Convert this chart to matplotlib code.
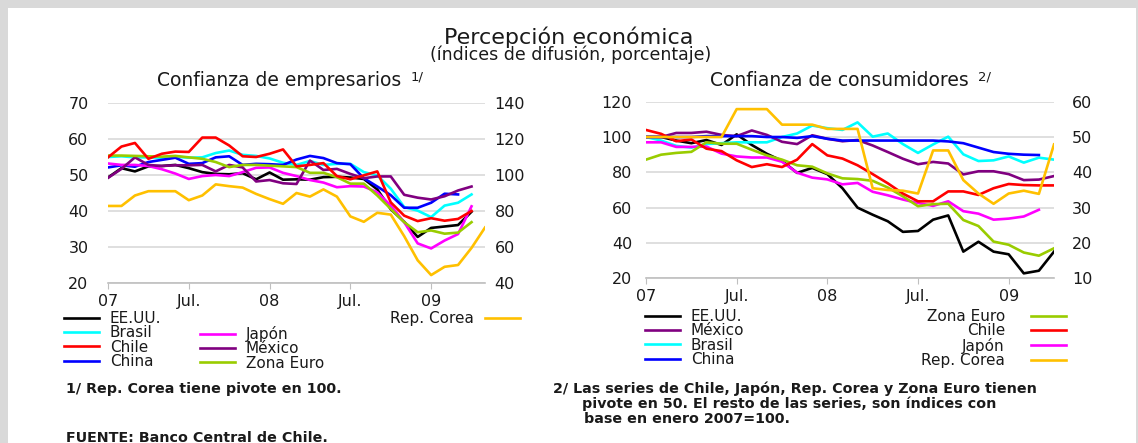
import matplotlib
matplotlib.use("Agg")
import matplotlib.pyplot as plt
import numpy as np
from matplotlib.patches import Rectangle

# ---- data: monthly, starting Jan 2007 ----
tick_pos = [0, 6, 12, 18, 24]
tick_labels = ["07", "Jul.", "08", "Jul.", "09"]

# Confianza de empresarios (left axis 20-70; Rep. Corea on right axis 40-140)
eeuu_e = [49.3, 51.9, 51.0, 52.4, 52.5, 52.8, 51.9, 50.8, 50.3, 50.2, 50.5, 48.8, 50.7, 48.7,
          48.8, 48.7, 49.4, 49.5, 49.3, 48.9, 46.0, 40.5, 37.0, 32.8, 35.3, 35.7, 36.1, 39.8]
brasil_e = [55.0, 55.2, 54.9, 54.9, 54.8, 55.1, 54.8, 54.9, 56.1, 56.8, 55.6, 55.3, 54.6, 53.4,
            52.8, 53.9, 52.8, 53.1, 53.1, 50.8, 49.9, 46.2, 41.1, 40.1, 38.3, 41.5, 42.3, 44.6]
chile_e = [54.9, 57.9, 58.9, 54.5, 55.9, 56.5, 56.4, 60.4, 60.4, 58.2, 55.2, 55.0, 55.9, 57.1,
           52.4, 52.8, 53.3, 49.7, 48.8, 49.9, 51.0, 42.4, 38.7, 37.2, 38.0, 37.3, 37.8, 40.0]
china_e = [52.1, 52.7, 52.3, 53.6, 54.2, 54.8, 53.1, 53.3, 54.9, 55.2, 52.8, 53.1, 53.0, 52.8,
           54.3, 55.3, 54.7, 53.3, 53.0, 49.1, 46.8, 44.4, 40.9, 40.9, 42.3, 44.8, 44.6]
japon_e = [53.2, 52.8, 52.8, 52.5, 51.6, 50.4, 48.9, 49.7, 50.0, 49.7, 50.8, 52.0, 52.1, 50.6,
           49.7, 48.6, 47.9, 46.6, 46.9, 46.8, 45.2, 41.5, 36.9, 31.0, 29.6, 31.8, 33.6, 41.3]
mexico_e = [49.2, 51.7, 54.9, 52.8, 52.5, 52.7, 52.7, 52.8, 51.0, 52.8, 52.1, 48.2, 48.6, 47.7,
            47.5, 54.0, 51.4, 51.7, 50.3, 49.1, 49.6, 49.6, 44.5, 43.7, 43.2, 44.1, 45.7, 46.8]
zona_e = [55.4, 55.4, 55.3, 55.2, 55.1, 55.3, 54.9, 54.5, 53.6, 52.2, 52.8, 52.8, 52.6, 52.4,
          52.2, 50.6, 50.6, 49.4, 47.6, 47.6, 44.3, 40.6, 36.9, 34.1, 34.6, 33.7, 34.0, 36.9]
corea_e = [82.8, 82.8, 88.6, 91.0, 91.0, 91.0, 86.0, 88.6, 94.8, 93.8, 93.0, 89.5, 86.6, 84.0,
           90.0, 88.0, 92.0, 88.0, 77.0, 74.0, 79.0, 78.0, 66.0, 52.6, 44.4, 49.0, 50.0, 59.5, 70.8]

# Confianza de consumidores (left axis 20-120; Chile, Japon, Corea, Zona Euro right axis 10-60)
eeuu_c = [100, 100, 98.0, 96.5, 98.3, 95.5, 101.5, 95.5, 90.5, 86.5, 79.7, 82.5, 79.0, 71.0,
          60.0, 56.0, 52.3, 46.3, 46.8, 53.2, 55.6, 35.1, 40.7, 35.1, 33.6, 22.8, 24.3, 35.1]
mexico_c = [100, 100, 102.3, 102.3, 103.0, 101.2, 100.5, 103.7, 101.2, 97.3, 96.0, 101.0, 99.0,
            97.6, 98.3, 95.2, 91.5, 87.7, 84.6, 85.9, 85.0, 78.8, 80.6, 80.6, 79.0, 75.6, 75.9, 77.9]
brasil_c = [100, 98.0, 95.0, 94.0, 96.0, 96.5, 97.0, 97.0, 97.0, 100.0, 102.0, 106.5, 105.0, 104.0,
            108.3, 100.2, 102.0, 96.0, 91.0, 95.8, 100.2, 90.2, 86.4, 86.8, 89.0, 85.5, 88.3, 87.2]
china_c = [100, 100, 100, 100, 100.5, 100.5, 100.5, 100.5, 100, 100, 99.5, 100.5, 99.0, 98.0,
           98.0, 98.0, 98.0, 98.0, 98.0, 98.0, 97.5, 96.5, 94.0, 91.5, 90.5, 90.0, 89.8]
zona_c = [43.6, 45.0, 45.5, 45.8, 48.5, 48.1, 48.1, 46.4, 44.8, 43.6, 42.0, 41.6, 39.7, 38.3,
          38.1, 37.6, 35.7, 33.2, 30.4, 31.0, 31.1, 26.5, 24.8, 20.4, 19.5, 17.3, 16.4, 18.5]
chile_c = [52.0, 50.9, 48.8, 49.3, 46.7, 46.0, 43.4, 41.5, 42.3, 41.5, 43.6, 48.0, 44.8, 43.9,
           42.0, 39.5, 36.9, 34.0, 31.8, 31.8, 34.6, 34.6, 33.6, 35.5, 36.7, 36.4, 36.3, 36.3]
japon_c = [48.5, 48.5, 47.2, 47.2, 47.3, 45.3, 44.5, 44.2, 44.2, 43.0, 39.9, 38.5, 38.0, 36.6,
           37.0, 34.5, 33.5, 32.3, 31.3, 30.5, 31.8, 29.0, 28.3, 26.6, 26.9, 27.5, 29.4]
corea_c = [50, 50, 50, 50, 50, 50, 57.9, 57.9, 57.9, 53.5, 53.5, 53.5, 52.3, 52.3, 52.3, 35.5,
           35.0, 34.8, 34.0, 46.2, 46.2, 37.8, 34.0, 31.1, 34.0, 34.8, 33.9, 47.9]

C = {"EE.UU.": "#000000", "Brasil": "#00ffff", "Chile": "#ff0000", "China": "#0000ff",
     "Japón": "#ff00ff", "México": "#800080", "Zona Euro": "#99cc00", "Rep. Corea": "#ffc000"}

W, H = 1138, 443
TXT = "#1a1a1a"


def fx(x):
    return x / W


def fy(y):
    return 1 - y / H


def style_axes(ax, axr, xmax):
    ax.set_xlim(0, xmax)
    ax.set_xticks(tick_pos)
    ax.set_xticklabels(tick_labels)
    ax.set_facecolor("none")
    for s in ["top", "left", "right"]:
        ax.spines[s].set_visible(False)
        axr.spines[s].set_visible(False)
    axr.spines["bottom"].set_visible(False)
    ax.spines["bottom"].set_color("#bfbfbf")
    ax.spines["bottom"].set_linewidth(1.2)
    ax.grid(axis="y", color="#d9d9d9", linewidth=1.2)
    ax.set_axisbelow(True)
    ax.tick_params(axis="x", length=4, color="#bfbfbf", labelsize=11.5, labelcolor=TXT, pad=4)
    ax.tick_params(axis="y", length=0, labelsize=11.5, labelcolor=TXT)
    axr.tick_params(axis="y", length=0, labelsize=11.5, labelcolor=TXT)


def leg(fig, handles, labels, x, y, right=False, textpad=0.7):
    fig.legend(handles, labels, loc="upper right" if right else "upper left",
               bbox_to_anchor=(fx(x), fy(y)), bbox_transform=fig.transFigure,
               frameon=False, borderpad=0, borderaxespad=0, handlelength=2.3,
               handletextpad=textpad, labelspacing=-0.04, fontsize=11,
               markerfirst=not right, labelcolor=TXT)


fig = plt.figure(figsize=(W / 100, H / 100), dpi=100)
fig.patch.set_facecolor("#d9d9d9")
fig.add_artist(Rectangle((fx(8), 0), fx(1128), fy(8), transform=fig.transFigure,
                         facecolor="white", edgecolor="none", zorder=-5))

lw = 1.9

# ---- left panel ----
ax1 = fig.add_axes([fx(108), fy(283), fx(377), 180 / H])
ax1r = ax1.twinx()
ln = {}
for name, vals in [("EE.UU.", eeuu_e), ("Brasil", brasil_e), ("China", china_e),
                   ("Japón", japon_e), ("México", mexico_e), ("Zona Euro", zona_e),
                   ("Chile", chile_e)]:
    (ln[name],) = ax1.plot(np.arange(len(vals)), vals, color=C[name], lw=lw)
(ln["Rep. Corea"],) = ax1r.plot(np.arange(len(corea_e)), corea_e, color=C["Rep. Corea"], lw=lw)
ax1.set_ylim(20, 70)
ax1.set_yticks(range(20, 71, 10))
ax1r.set_ylim(40, 140)
ax1r.set_yticks(range(40, 141, 20))
style_axes(ax1, ax1r, 28)
ax1.tick_params(axis="y", pad=14)
ax1r.tick_params(axis="y", pad=7)

t1 = fig.text(fx(279), fy(80), "Confianza de empresarios", ha="center", va="center",
              fontsize=13.5, color=TXT)
ax1.annotate("1/", xy=(1, 1), xycoords=t1, xytext=(7, 0), textcoords="offset points",
             ha="left", va="top", fontsize=9.5, color=TXT, annotation_clip=False)

leg(fig, [ln[k] for k in ["EE.UU.", "Brasil", "Chile", "China"]],
    ["EE.UU.", "Brasil", "Chile", "China"], 64, 311)
leg(fig, [ln[k] for k in ["Japón", "México", "Zona Euro"]],
    ["Japón", "México", "Zona Euro"], 200, 326)
leg(fig, [ln["Rep. Corea"]], ["Rep. Corea"], 520, 311, right=True)

# ---- right panel ----
ax2 = fig.add_axes([fx(646), fy(278.3), fx(408), 176.6 / H])
ax2r = ax2.twinx()
lc = {}
for name, vals in [("EE.UU.", eeuu_c), ("Brasil", brasil_c), ("México", mexico_c),
                   ("China", china_c)]:
    (lc[name],) = ax2.plot(np.arange(len(vals)), vals, color=C[name], lw=lw)
for name, vals in [("Japón", japon_c), ("Zona Euro", zona_c), ("Chile", chile_c),
                   ("Rep. Corea", corea_c)]:
    (lc[name],) = ax2r.plot(np.arange(len(vals)), vals, color=C[name], lw=lw)
ax2.set_ylim(20, 120)
ax2.set_yticks(range(20, 121, 20))
ax2r.set_ylim(10, 60)
ax2r.set_yticks(range(10, 61, 10))
style_axes(ax2, ax2r, 27)
ax2.tick_params(axis="y", pad=10)
ax2r.tick_params(axis="y", pad=13)

t2 = fig.text(fx(839), fy(80), "Confianza de consumidores", ha="center", va="center",
              fontsize=13.5, color=TXT)
ax2.annotate("2/", xy=(1, 1), xycoords=t2, xytext=(7, 0), textcoords="offset points",
             ha="left", va="top", fontsize=9.5, color=TXT, annotation_clip=False)

leg(fig, [lc[k] for k in ["EE.UU.", "México", "Brasil", "China"]],
    ["EE.UU.", "México", "Brasil", "China"], 645, 309)
leg(fig, [lc[k] for k in ["Zona Euro", "Chile", "Japón", "Rep. Corea"]],
    ["Zona Euro", "Chile", "Japón", "Rep. Corea"], 1066, 309, right=True, textpad=1.7)

# ---- titles and notes ----
fig.text(fx(569), fy(37), "Percepción económica", ha="center", va="center",
         fontsize=16, color=TXT)
fig.text(fx(571), fy(55), "(índices de difusión, porcentaje)", ha="center", va="center",
         fontsize=12.5, color=TXT)

note = dict(ha="left", va="center", fontsize=10.3, fontweight="bold", color=TXT)
fig.text(fx(66), fy(389), "1/ Rep. Corea tiene pivote en 100.", **note)
fig.text(fx(66), fy(438), "FUENTE: Banco Central de Chile.", **note)
fig.text(fx(553), fy(389), "2/ Las series de Chile, Japón, Rep. Corea y Zona Euro tienen", **note)
fig.text(fx(582), fy(404), "pivote en 50. El resto de las series, son índices con", **note)
fig.text(fx(584), fy(419), "base en enero 2007=100.", **note)

fig.savefig("out.png", dpi=100)
